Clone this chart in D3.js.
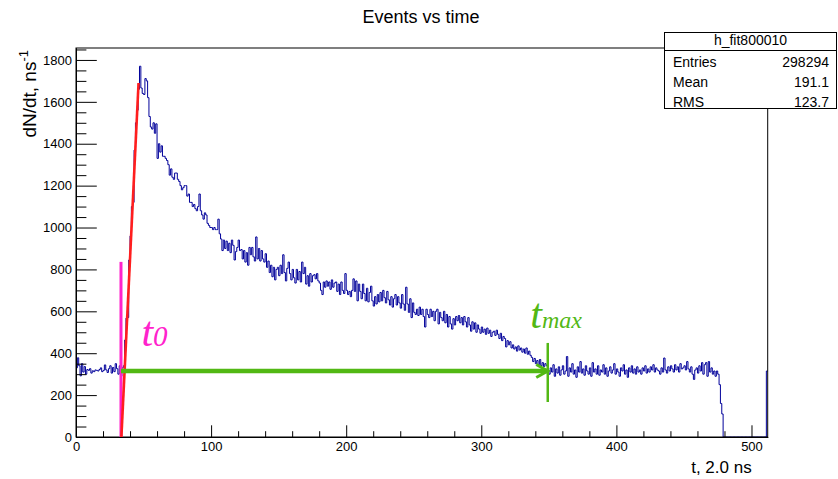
<!DOCTYPE html>
<html><head><meta charset="utf-8">
<script src="https://cdn.jsdelivr.net/npm/d3@7"></script>
<style>
body{margin:0;background:#fff;}
svg{display:block;}
text{font-family:"Liberation Sans",Arial,Helvetica,sans-serif;fill:#000;}
</style>
</head><body>
<svg id="c" width="838" height="479"></svg>
<script>
// ---------------- data ----------------
const chartTitle = "Events vs time";
const histName = "h_fit800010";
const statLabels = ["Entries", "Mean", "RMS"];
const statValues = ["298294", "191.1", "123.7"];
const xTitle = "t, 2.0 ns";
const nBins = 512;
const xMajorTicks = [0, 100, 200, 300, 400, 500];
const yMajorTicks = [0, 200, 400, 600, 800, 1000, 1200, 1400, 1600, 1800];

// bin contents, grouped by the bin where each group starts
const preStart = 0;
const preBins = [330,378,340,292,350,310,336,300,322,318,326,305,316,312,320,318,315,322,330,312,318,344,320,308,326,340,305,332,312,350,326,300,340,290,330];
const riseStart = 35;
const riseBins = [340,463,568,570,845,960,1100,1120,1370,1500,1560,1660,1770];
const decayAStart = 48;
const decayA = [1666,1640,1635,1711,1700,1620,1530,1480,1470,1500,1450,1495,1330,1400,1360,1390,1340,1340,1330,1320,1300,1250,1280,1240,1230,1260,1260,1230,1220,1200,1180,1190,1200,1200,1150,1160,1120,1120,1100,1110,1090,1080,1100,1160,1080,1060,1040,1070,1060,1020,1010,1000,1000,990,1000,990,990,1040,970];
const decayBStart = 107;
const decayB = [945,890,940,900,935,890,925,880,940,915,
  845,885,905,940,890,895,850,890,835,880,
  820,905,870,905,860,840,955,850,900,840,
  890,850,835,875,810,840,785,820,765,810,
  750,800,810,770,820,780,870,785,745,805,
  835,780,750,800,760,735,800,750,790,740,
  835,780,810,730,770,720,780,740,770,775,
  755,780,745,735,700,680,740,715,745,720,
  740,705,750,715,735];
const decayCStart = 192;
const decayC = [740,695,730,680,740,700,685,780,700,680,
  695,670,700,755,695,745,650,730,695,660,
  730,685,650,710,645,690,720,650,625,670,
  635,680,645,690,650,700,665,640,695,655,
  630,670,620,660,680,630,670,640,615,680,
  635,605,715,635,595,660,570,640,595,585,
  610,580,620,585,610,575,525,610,585,570,
  610,575,600,555,600,610,540,595,570,555,
  600,545,585,525,575,540,515,565,535,575,
  555,580,545,570,535,575,550,525,570,535,
  505,550,515,545,500,535,515,495];
const decayDStart = 300;
const decayD = [525,500,515,490,520,495,510,480,500,505,
  485,510,490,470,495,460,480,470,430,460,
  440,455,425,440,420,430,410,435,415,425,
  405,420,400,425,395,410,390,380,360,375,
  350,365,345,370,340,355,336,350,340,320];
const plateauStart = 350;
const plateau = [300,330,310,345,290,325,305,335,295,320,
  340,300,315,384,290,330,310,350,300,320,
  285,335,310,360,305,325,295,340,315,300,
  330,290,355,310,325,300,340,295,320,310,
  345,300,330,290,315,335,305,320,350,300,
  325,310,290,330,315,345,300,320,285,330,
  310,340,305,325,300,335,310,320,300,330,
  315,340,305,325,310,335,320,345,310,330,
  320,315,300,330,310,377,320,305,335,315,
  340,325,310,345,320,335,310,350,325,330,
  340,320,360,325,310,335,300,275,320,330,
  305,340,315,355,300,345,355,290,360,310,
  330,300,315,290,315,300];
const fallStart = 476;
const fallBins = [250,160,110];
const lastStart = 511;
const lastBins = [315];

// annotations (data coordinates)
const t0Value = 33.3, t0LineTop = 836;
const fitStart = [33.6, 0], fitEnd = [46.3, 1690];
const tmaxValue = 349.2, arrowLevel = 315;
const tmaxTickRange = [167, 449];
const t0LabelPos = [48.4, 435];
const tmaxLabelPos = [336.3, 520];

// ---------------- build ----------------
const counts = new Array(nBins).fill(0);
[[preStart,preBins],[riseStart,riseBins],[decayAStart,decayA],[decayBStart,decayB],
 [decayCStart,decayC],[decayDStart,decayD],[plateauStart,plateau],[fallStart,fallBins],[lastStart,lastBins]]
 .forEach(([s,arr]) => arr.forEach((v,i) => { if (s+i < nBins) counts[s+i] = v; }));

const svg = d3.select("#c");
const L = 76, R = 767.7, T = 48, B = 437;
const x = d3.scaleLinear().domain([0, nBins]).range([L, R]);
const y = d3.scaleLinear().domain([0, 1857]).range([B, T]);

// title
svg.append("text").attr("x", 421).attr("y", 23).attr("text-anchor", "middle")
  .style("font-size", "18px").text(chartTitle);

// histogram
const pts = counts.map((v, i) => [i, v]);
pts.push([nBins, counts[nBins - 1]]);
svg.append("path").datum(pts)
  .attr("fill", "none").attr("stroke", "#00009a").attr("stroke-width", 1)
  .attr("d", d3.line().x(d => x(d[0])).y(d => y(d[1])).curve(d3.curveStepAfter));

// frame
svg.append("rect").attr("x", L).attr("y", T).attr("width", R - L).attr("height", B - T)
  .attr("fill", "none").attr("stroke", "#000").attr("stroke-width", 1);

// axes
const xMinor = d3.range(0, nBins + 1, 20).filter(v => v % 100 !== 0);
const yMinor = d3.range(0, 1851, 50).filter(v => v % 200 !== 0);
const gx = svg.append("g").attr("transform", `translate(0,${B})`);
gx.call(d3.axisBottom(x).tickValues(xMajorTicks).tickSize(-11.7).tickSizeOuter(0).tickPadding(5).tickFormat(d3.format("d")));
gx.append("g").call(d3.axisBottom(x).tickValues(xMinor).tickSize(-5.8).tickSizeOuter(0).tickFormat(""));
const gy = svg.append("g").attr("transform", `translate(${L},0)`);
gy.call(d3.axisLeft(y).tickValues(yMajorTicks).tickSize(-20.8).tickSizeOuter(0).tickPadding(4).tickFormat(d3.format("d")));
gy.append("g").call(d3.axisLeft(y).tickValues(yMinor).tickSize(-10.4).tickSizeOuter(0).tickFormat(""));
svg.selectAll(".domain").attr("stroke", "#000");
svg.selectAll(".tick line").attr("stroke", "#000");
svg.selectAll(".tick text").style("font-size", "13px").style("font-family", '"Liberation Sans",Arial,sans-serif').attr("fill", "#000");

// axis titles
svg.append("text").attr("x", R - 16).attr("y", 473).attr("text-anchor", "end")
  .style("font-size", "17px").text(xTitle);
const yt = svg.append("text").attr("transform", "translate(36,50) rotate(-90)")
  .attr("text-anchor", "end").style("font-size", "19px");
yt.append("tspan").text("dN/dt, ns");
yt.append("tspan").attr("dy", -8).style("font-size", "13px").text("-1");

// annotations
const magenta = "#ff22cc", green = "#52b814";
svg.append("line").attr("x1", x(t0Value)).attr("x2", x(t0Value)).attr("y1", y(0)).attr("y2", y(t0LineTop))
  .attr("stroke", magenta).attr("stroke-width", 3);
svg.append("line").attr("x1", x(fitStart[0])).attr("y1", y(fitStart[1])).attr("x2", x(fitEnd[0])).attr("y2", y(fitEnd[1]))
  .attr("stroke", "#ff1e1e").attr("stroke-width", 2.6);
const ay = y(arrowLevel), ax0 = x(t0Value), ax1 = x(tmaxValue);
svg.append("line").attr("x1", ax0).attr("x2", ax1).attr("y1", ay).attr("y2", ay)
  .attr("stroke", green).attr("stroke-width", 4.5);
svg.append("path").attr("d", `M${ax1 - 11.5},${ay - 6.5}L${ax1},${ay}L${ax1 - 11.5},${ay + 6.5}`)
  .attr("fill", "none").attr("stroke", green).attr("stroke-width", 3);
svg.append("line").attr("x1", ax1).attr("x2", ax1).attr("y1", y(tmaxTickRange[0])).attr("y2", y(tmaxTickRange[1]))
  .attr("stroke", green).attr("stroke-width", 2.5);

const serif = '"Liberation Serif","Times New Roman",serif';
const t0t = svg.append("text").attr("x", x(t0LabelPos[0])).attr("y", y(t0LabelPos[1]))
  .style("font-family", serif).style("font-style", "italic").style("font-size", "42px").style("fill", magenta);
t0t.append("tspan").text("t");
t0t.append("tspan").style("font-size", "29px").text("0");
const tmt = svg.append("text").attr("x", x(tmaxLabelPos[0])).attr("y", y(tmaxLabelPos[1]))
  .style("font-family", serif).style("font-style", "italic").style("font-size", "42px").style("fill", green);
tmt.append("tspan").text("t");
tmt.append("tspan").style("font-size", "24px").text("max");

// stats box
const sb = svg.append("g");
sb.append("rect").attr("x", 664.5).attr("y", 32.5).attr("width", 172).attr("height", 76)
  .attr("fill", "#fff").attr("stroke", "#000");
sb.append("line").attr("x1", 664.5).attr("x2", 836.5).attr("y1", 50.5).attr("y2", 50.5).attr("stroke", "#000");
sb.append("text").attr("x", 750.5).attr("y", 45).attr("text-anchor", "middle").style("font-size", "14px").text(histName);
statLabels.forEach((s, i) => {
  sb.append("text").attr("x", 673).attr("y", 66.5 + i * 20).style("font-size", "14px").text(s);
  sb.append("text").attr("x", 829).attr("y", 66.5 + i * 20).attr("text-anchor", "end").style("font-size", "14px").text(statValues[i]);
});
</script>
</body></html>
